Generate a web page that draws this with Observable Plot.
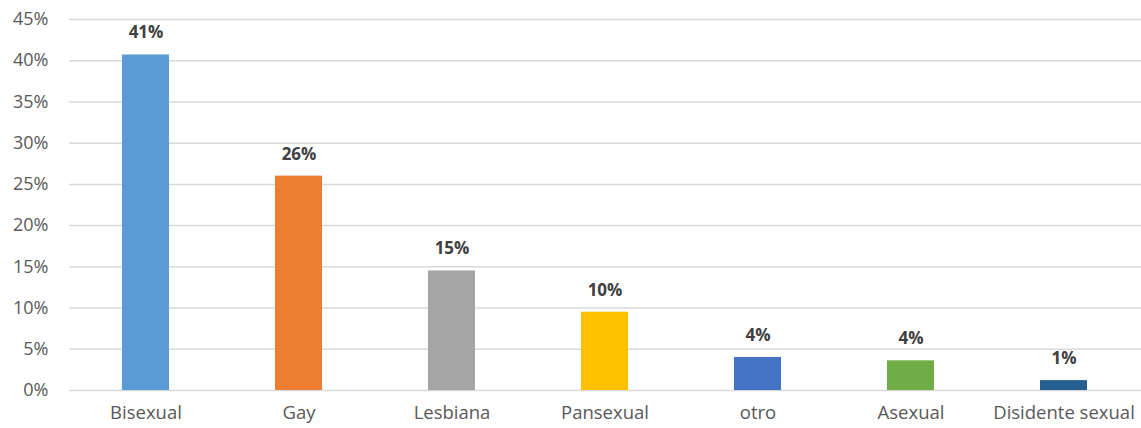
<!DOCTYPE html>
<html>
<head>
<meta charset="utf-8">
<script src="https://cdn.jsdelivr.net/npm/d3@7"></script>
<script src="https://cdn.jsdelivr.net/npm/@observablehq/plot@0.6"></script>
<style>
  html, body { margin: 0; padding: 0; background: #fff; }
  #chart svg { display: block; }
</style>
</head>
<body>
<div id="chart"></div>
<script>
const categories = ["Bisexual", "Gay", "Lesbiana", "Pansexual", "otro", "Asexual", "Disidente sexual"];
const values = [0.407, 0.260, 0.145, 0.095, 0.040, 0.036, 0.012];
const labels = ["41%", "26%", "15%", "10%", "4%", "4%", "1%"];
const colors = ["#5B9BD5", "#ED7D31", "#A5A5A5", "#FFC000", "#4472C4", "#70AD47", "#255E91"];
const yTicks = [0, 0.05, 0.10, 0.15, 0.20, 0.25, 0.30, 0.35, 0.40, 0.45];

const data = categories.map((c, i) => ({category: c, value: values[i], label: labels[i], color: colors[i]}));

const chart = Plot.plot({
  width: 1141,
  height: 428,
  marginLeft: 69,
  marginRight: 0,
  marginTop: 19,
  marginBottom: 38,
  style: {fontFamily: "'Open Sans', Lato, sans-serif", fontSize: "18px", color: "#595959", background: "#fff"},
  x: {domain: categories, paddingInner: 0.69, paddingOuter: 0.345, label: null},
  y: {domain: [0, 0.45], ticks: yTicks, tickFormat: d3.format(".0%"), label: null},
  marks: [
    Plot.gridY(yTicks, {stroke: "#d9d9d9", strokeOpacity: 1, strokeWidth: 1.5}),
    Plot.barY(data, {x: "category", y: "value", fill: "color"}),
    Plot.text(data, {x: "category", y: "value", text: "label", dy: -22, fontWeight: "bold", fontSize: 17, fill: "#404040"}),
    Plot.axisX({tickSize: 0, tickPadding: 15, fontSize: 18.5, fill: "#595959"}),
    Plot.axisY({ticks: yTicks, tickFormat: d3.format(".0%"), tickSize: 0, tickPadding: 21, fontSize: 18, fill: "#595959"})
  ]
});
document.getElementById("chart").appendChild(chart);
</script>
</body>
</html>
